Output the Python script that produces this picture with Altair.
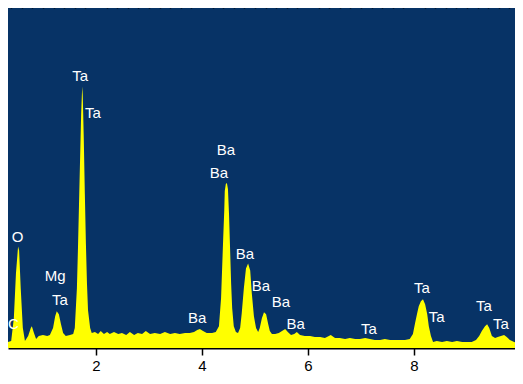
import altair as alt
import pandas as pd

# EDS spectrum (energy in keV, counts in arbitrary units)
energy = [0.15, 0.23, 0.26, 0.30, 0.34, 0.40, 0.45, 0.49, 0.53, 0.55, 0.58, 0.62, 0.66,
          0.72, 0.77, 0.79, 0.83, 0.87, 0.92, 1.00, 1.08, 1.13, 1.19, 1.23, 1.26, 1.30,
          1.34, 1.38, 1.43, 1.51, 1.57, 1.60, 1.64, 1.66, 1.68, 1.70, 1.72, 1.74, 1.75,
          1.77, 1.79, 1.81, 1.83, 1.85, 1.89, 1.92, 1.98, 2.04, 2.09, 2.15, 2.21, 2.26,
          2.34, 2.42, 2.49, 2.57, 2.64, 2.72, 2.79, 2.87, 2.94, 3.02, 3.11, 3.21, 3.30,
          3.40, 3.49, 3.58, 3.68, 3.77, 3.85, 3.91, 3.96, 4.02, 4.09, 4.19, 4.26, 4.32,
          4.36, 4.38, 4.40, 4.42, 4.43, 4.45, 4.47, 4.49, 4.51, 4.53, 4.55, 4.57, 4.60,
          4.64, 4.68, 4.72, 4.75, 4.79, 4.83, 4.87, 4.91, 4.94, 4.98, 5.02, 5.06, 5.09,
          5.13, 5.17, 5.21, 5.25, 5.28, 5.32, 5.38, 5.45, 5.51, 5.57, 5.62, 5.68, 5.74,
          5.79, 5.85, 5.94, 6.04, 6.13, 6.23, 6.32, 6.43, 6.51, 6.60, 6.70, 6.79, 6.89,
          6.98, 7.08, 7.17, 7.26, 7.36, 7.45, 7.55, 7.64, 7.74, 7.83, 7.92, 7.98, 8.02,
          8.06, 8.09, 8.13, 8.17, 8.21, 8.25, 8.28, 8.32, 8.36, 8.43, 8.53, 8.62, 8.72,
          8.81, 8.91, 9.00, 9.09, 9.17, 9.23, 9.28, 9.34, 9.38, 9.42, 9.47, 9.53, 9.58,
          9.64, 9.70, 9.75, 9.81, 9.89, 9.96, 10.06]
counts = [7, 9, 13, 10, 6, 7, 30, 75, 102, 98, 60, 20, 7,
          12, 20, 22, 15, 9, 12, 13, 12, 13, 20, 32, 37, 34,
          24, 15, 12, 13, 14, 20, 60, 100, 145, 190, 235, 263, 255,
          210, 155, 105, 65, 38, 20, 15, 16, 14, 17, 14, 16, 14,
          16, 14, 15, 13, 16, 13, 15, 14, 17, 14, 15, 14, 16,
          14, 15, 14, 15, 15, 16, 18, 19, 17, 15, 15, 16, 22,
          50, 80, 110, 138, 158, 165, 166, 160, 135, 100, 65, 40, 22,
          16, 15, 20, 35, 60, 80, 85, 78, 55, 32, 20, 16, 20,
          30, 36, 34, 24, 17, 14, 14, 15, 17, 19, 16, 13, 14,
          16, 13, 12, 12, 11, 11, 10, 13, 10, 10, 9, 10, 9,
          9, 10, 9, 8, 8, 9, 8, 8, 8, 8, 9, 14, 25,
          35, 42, 47, 49, 44, 34, 22, 12, 6, 7, 6, 7, 6,
          7, 6, 6, 6, 8, 12, 17, 22, 24, 20, 12, 10, 11,
          12, 13, 11, 8, 6, 5, 4]

# peak labels
label_text = ["C", "O", "Mg", "Ta", "Ta", "Ta", "Ba", "Ba", "Ba", "Ba", "Ba", "Ba", "Ba",
              "Ta", "Ta", "Ta", "Ta", "Ta"]
label_energy = [0.44, 0.52, 1.23, 1.32, 1.70, 1.94, 4.45, 4.32, 4.81, 5.11, 5.49, 5.77, 3.91,
                7.15, 8.15, 8.43, 9.32, 9.64]
label_counts = [24, 112, 72, 48, 274, 236, 199, 176, 95, 62, 46, 24, 30,
                19, 60, 31, 42, 24]

# axis ticks
major_ticks = [2, 4, 6, 8]
minor_ticks = [0.4, 0.6, 0.8, 1.0, 1.2, 1.4, 1.6, 1.8, 2.2, 2.4, 2.6, 2.8, 3.0,
               3.2, 3.4, 3.6, 3.8, 4.2, 4.4, 4.6, 4.8, 5.0, 5.2, 5.4, 5.6, 5.8,
               6.2, 6.4, 6.6, 6.8, 7.0, 7.2, 7.4, 7.6, 7.8, 8.2, 8.4, 8.6,
               8.8, 9.0, 9.2, 9.4, 9.6, 9.8]

spec_df = pd.DataFrame({"energy": energy, "counts": counts})
lab_df = pd.DataFrame({"energy": label_energy, "counts": label_counts, "text": label_text})

x_scale = alt.Scale(domain=[0.34, 9.906], nice=False, zero=False)
y_scale = alt.Scale(domain=[0, 342], nice=False)

major_axis = alt.Axis(
    values=major_ticks,
    title=None,
    grid=False,
    format="d",
    labelOverlap=False,
    labelFlush=False,
    labelFont="Liberation Sans",
    labelFontSize=15,
    labelColor="black",
    labelPadding=3,
    tickColor="black",
    tickWidth=1.5,
    tickSize=7,
    domainColor="black",
    domainWidth=2,
)

minor_axis = alt.Axis(
    values=minor_ticks,
    title=None,
    grid=False,
    labels=False,
    domain=False,
    tickColor="black",
    tickWidth=1.5,
    tickSize=4,
)

area = alt.Chart(spec_df).mark_area(color="#ffff00", clip=True, interpolate="linear").encode(
    x=alt.X("energy:Q", scale=x_scale, axis=major_axis),
    y=alt.Y("counts:Q", scale=y_scale, axis=None),
)

labels = alt.Chart(lab_df).mark_text(
    color="white", font="Liberation Sans", fontSize=15, align="center",
    baseline="middle", clip=True
).encode(
    x=alt.X("energy:Q", scale=x_scale, axis=minor_axis),
    y=alt.Y("counts:Q", scale=y_scale, axis=None),
    text="text:N",
)

chart = alt.layer(area, labels).resolve_axis(x="independent").properties(
    width=507,
    height=340,
    padding={"left": 0, "top": 0, "right": 0, "bottom": 28},
    autosize=alt.AutoSizeParams(type="none"),
    background="white",
).configure_view(fill="#073366", strokeWidth=0)

chart.save("out.html", embed_options={"renderer": "svg", "actions": False})
